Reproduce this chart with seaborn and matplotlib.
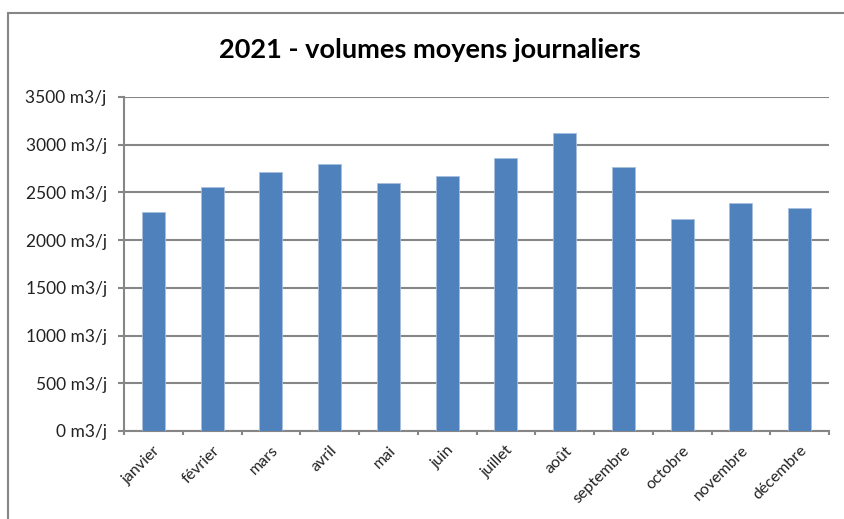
import matplotlib
matplotlib.use("Agg")
import matplotlib.pyplot as plt
from matplotlib.patches import Rectangle
from matplotlib.ticker import FuncFormatter, MultipleLocator
import pandas as pd
import seaborn as sns

mois = ["janvier", "février", "mars", "avril", "mai", "juin",
        "juillet", "août", "septembre", "octobre", "novembre", "décembre"]
volumes = [2290, 2560, 2710, 2800, 2600, 2675,
           2860, 3120, 2770, 2220, 2390, 2340]
titre = "2021 - volumes moyens journaliers"

df = pd.DataFrame({"mois": mois, "volume": volumes})

sns.set_theme(style="white")
plt.rcParams["font.family"] = ["Lato", "DejaVu Sans"]

grey = "#868686"
fig = plt.figure(figsize=(8.44, 5.19), dpi=100)
ax = fig.add_axes([124 / 844, 1 - 431 / 519, 705 / 844, 334 / 519])

sns.barplot(data=df, x="mois", y="volume", color="#4F81BD", width=0.39,
            saturation=1, edgecolor="#A7BFDE", linewidth=0.6, ax=ax, zorder=3)

ax.set_ylim(0, 3500)
ax.set_xlim(-0.5, len(mois) - 0.5)
ax.yaxis.set_major_locator(MultipleLocator(500))
ax.yaxis.set_major_formatter(FuncFormatter(lambda v, p: f"{v:.0f} m3/j"))
ax.grid(axis="y", color=grey, linewidth=1.5, zorder=0)
ax.set_axisbelow(True)

for s in ["top", "right"]:
    ax.spines[s].set_visible(False)
for s in ["left", "bottom"]:
    ax.spines[s].set_color(grey)
    ax.spines[s].set_linewidth(1.5)

ax.set_xlabel("")
ax.set_ylabel("")
ax.set_xticks([i - 0.5 for i in range(len(mois) + 1)], minor=False)
ax.set_xticklabels([])
ax.set_xticks(range(len(mois)), minor=True)
ax.set_xticklabels(mois, minor=True, rotation=45, ha="right",
                   rotation_mode="anchor", fontsize=11.5, color="#222222")
ax.tick_params(axis="x", which="major", direction="out", length=3,
               width=1.5, color=grey, bottom=True)
ax.tick_params(axis="x", which="minor", length=0, pad=9)
ax.tick_params(axis="y", direction="out", length=4.5, width=1.5, color=grey,
               left=True, labelsize=12.5, labelcolor="#222222", pad=8)

fig.text(430 / 844, 1 - 50 / 519, titre, ha="center", va="center",
         fontsize=19.5, fontweight="bold", color="black")

fig.patches.append(Rectangle((8 / 844, -0.1), 1.2, 1.1 - 13 / 519,
                             transform=fig.transFigure, fill=False,
                             edgecolor=grey, linewidth=1.5))

fig.savefig("out.png", dpi=100)
